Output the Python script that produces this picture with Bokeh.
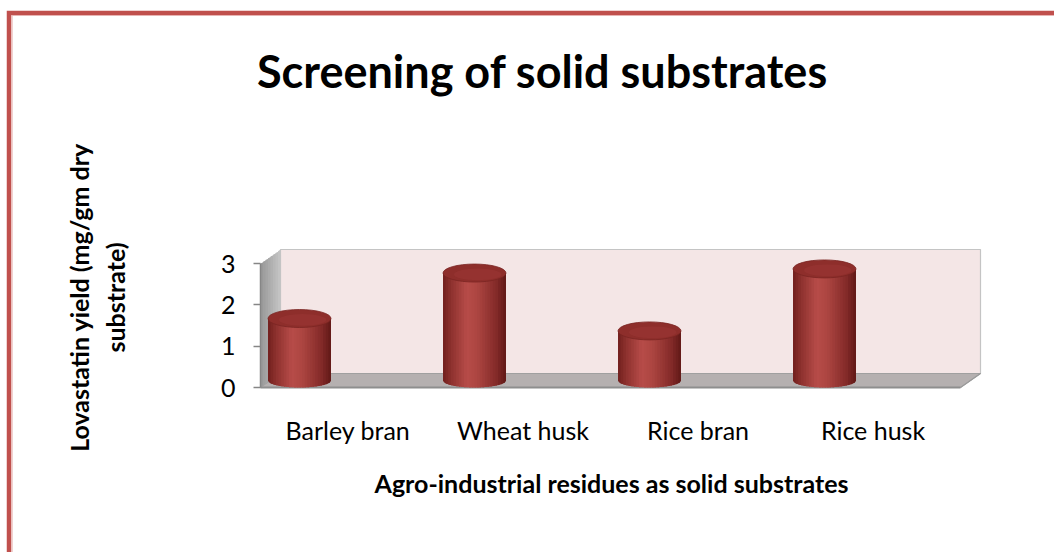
import numpy as np
from bokeh.plotting import figure
from bokeh.models import Range1d, LinearAxis, FixedTicker, Label
from bokeh.embed import file_html
from bokeh.resources import INLINE

# ---------------- data ----------------
categories = ["Barley bran", "Wheat husk", "Rice bran", "Rice husk"]
lovastatin_yield = [1.5, 2.6, 1.2, 2.7]
y_ticks = [0, 1, 2, 3]
title_text = "Screening of solid substrates"
x_title = "Agro-industrial residues as solid substrates"
y_title = "Lovastatin yield (mg/gm dry\nsubstrate)"

# ---------------- layout (canvas pixels) ----------------
W, H = 1054, 552
X0_PX, XPU = 260.0, 175.0    # x=0 position, px per category
Y0_PX, YPU = 387.0, 41.33    # y=0 position, px per unit


def px2x(px):
    return (px - X0_PX) / XPU


def px2y(py):
    return (Y0_PX - py) / YPU


n = len(categories)
ymax = y_ticks[-1]
DX = 20.0 / XPU              # depth offset
DY = 14.0 / YPU
BAR_SHIFT = 39.0 / XPU       # bar centre offset inside a category
A = 31.5 / XPU               # cylinder half width
B_TOP = 9.0 / YPU            # top ellipse half height
B_BOT = 7.0 / YPU            # bottom ellipse half height

p = figure(width=W, height=H,
           x_range=Range1d(px2x(0), px2x(W)),
           y_range=Range1d(px2y(H), px2y(0)),
           output_backend="svg", toolbar_location=None,
           x_axis_type=None, y_axis_type=None, min_border=0)
p.grid.visible = False
p.outline_line_color = None
p.background_fill_color = "white"
p.border_fill_color = "white"


def hexmix(c1, c2, t):
    a = [int(c1[i:i + 2], 16) for i in (1, 3, 5)]
    b = [int(c2[i:i + 2], 16) for i in (1, 3, 5)]
    return "#%02x%02x%02x" % tuple(int(round(a[k] + (b[k] - a[k]) * t)) for k in range(3))


def profile(stops, t):
    for (t0, c0), (t1, c1) in zip(stops[:-1], stops[1:]):
        if t <= t1:
            return hexmix(c0, c1, (t - t0) / (t1 - t0) if t1 > t0 else 0)
    return stops[-1][1]


# outer border of the chart area (only left and top edges lie in view)
p.line([px2x(8.5), px2x(8.5), px2x(W + 50)], [px2y(H + 50), px2y(12.5), px2y(12.5)],
       line_color="#c0504d", line_width=4.5, line_join="miter")
p.line([px2x(11.5), px2x(11.5), px2x(W + 50)], [px2y(H + 50), px2y(15), px2y(15)],
       line_color="#e8b4b3", line_width=1.2, line_join="miter")

# back wall
p.patch([DX, n + DX, n + DX, DX], [DY, DY, ymax + DY, ymax + DY],
        fill_color="#f4e6e6", line_color="#c4c4c4", line_width=1.2)

# left side wall (shaded strips)
wall_stops = [(0.0, "#969696"), (1.0, "#c6c6c6")]
NS = 8
xs, ys, cs = [], [], []
for k in range(NS):
    t0, t1 = k / NS, (k + 1) / NS
    xa, xb = DX * t0, DX * min(1.0, t1 + 0.5 / NS)
    xs.append([xa, xb, xb, xa])
    ys.append([DY * t0, DY * t1, ymax + DY * t1, ymax + DY * t0])
    cs.append(profile(wall_stops, (t0 + t1) / 2))
p.patches(xs, ys, fill_color=cs, line_color=None)

# floor
p.patch([0, n, n + DX, DX], [0, 0, DY, DY],
        fill_color="#b5b0b0", line_color="#a0a0a0", line_width=1)
p.line([0, n], [0, 0], line_color="#8e8e8e", line_width=2.2)
p.line([n, n + DX], [0, DY], line_color="#9a9a9a", line_width=1.2)

# cylinders
body_stops = [(0.0, "#701f1d"), (0.12, "#8c302d"), (0.38, "#b74c49"),
              (0.55, "#ac4541"), (0.85, "#832a28"), (1.0, "#601817")]
NB = 24
xs, ys, cs = [], [], []
for i, v in enumerate(lovastatin_yield):
    xc = i + BAR_SHIFT
    yb = DY / 2
    yt = v + DY / 2
    for k in range(NB):
        t0 = k / NB
        t1 = min(1.0, (k + 1.6) / NB)
        xa, xb = xc - A + 2 * A * t0, xc - A + 2 * A * t1
        m = 8
        px_ = list(np.linspace(xa, xb, m))
        bot = [yb - B_BOT * np.sqrt(max(0.0, 1 - ((x - xc) / A) ** 2)) for x in px_]
        xs.append([xa, xb] + px_[::-1])
        ys.append([yt, yt] + bot[::-1])
        cs.append(profile(body_stops, (k + 0.5) / NB))
p.patches(xs, ys, fill_color=cs, line_color=None)

tops_x = [i + BAR_SHIFT for i in range(n)]
tops_y = [v + DY / 2 for v in lovastatin_yield]
p.ellipse(x=tops_x, y=tops_y, width=2 * A, height=2 * B_TOP,
          fill_color="#8e2e2b", line_color="#7a2422", line_width=0.8)
p.ellipse(x=[x + 0.1 * A for x in tops_x], y=[y - 0.15 * B_TOP for y in tops_y],
          width=1.5 * A, height=1.3 * B_TOP,
          fill_color="#9a3633", fill_alpha=0.6, line_color=None)

# axes (drawn at fixed locations inside the full-canvas frame)
yaxis = LinearAxis(ticker=FixedTicker(ticks=y_ticks), bounds=(y_ticks[0], y_ticks[-1]),
                   fixed_location=0)
yaxis.axis_line_color = "#868686"
yaxis.axis_line_width = 1.5
yaxis.major_tick_line_color = "#868686"
yaxis.major_tick_line_width = 1.5
yaxis.major_tick_out = 7
yaxis.major_tick_in = 0
yaxis.minor_tick_line_color = None
yaxis.major_label_standoff = 18
yaxis.major_label_text_font = "Lato"
yaxis.major_label_text_font_size = "25px"
yaxis.major_label_text_color = "black"
p.add_layout(yaxis, "left")

xaxis = LinearAxis(ticker=FixedTicker(ticks=[i + 0.5 for i in range(n)]),
                   fixed_location=px2y(392))
xaxis.major_label_overrides = {i + 0.5: c for i, c in enumerate(categories)}
xaxis.axis_line_color = None
xaxis.major_tick_line_color = None
xaxis.minor_tick_line_color = None
xaxis.major_label_standoff = 16
xaxis.major_label_text_font = "Lato"
xaxis.major_label_text_font_size = "25px"
xaxis.major_label_text_color = "black"
p.add_layout(xaxis, "below")

# titles
p.add_layout(Label(x=px2x(542), y=px2y(70), text=title_text,
                   text_font="Lato", text_font_style="bold", text_font_size="45px",
                   text_align="center", text_baseline="middle", text_color="black"))
p.add_layout(Label(x=px2x(611), y=px2y(482), text=x_title,
                   text_font="Lato", text_font_style="bold", text_font_size="25px",
                   text_align="center", text_baseline="middle", text_color="black"))
p.add_layout(Label(x=px2x(96), y=px2y(297), text=y_title, angle=np.pi / 2,
                   text_font="Lato", text_font_style="bold", text_font_size="25px",
                   text_align="center", text_baseline="middle", text_color="black"))

open("out.html", "w").write(file_html(p, INLINE))
